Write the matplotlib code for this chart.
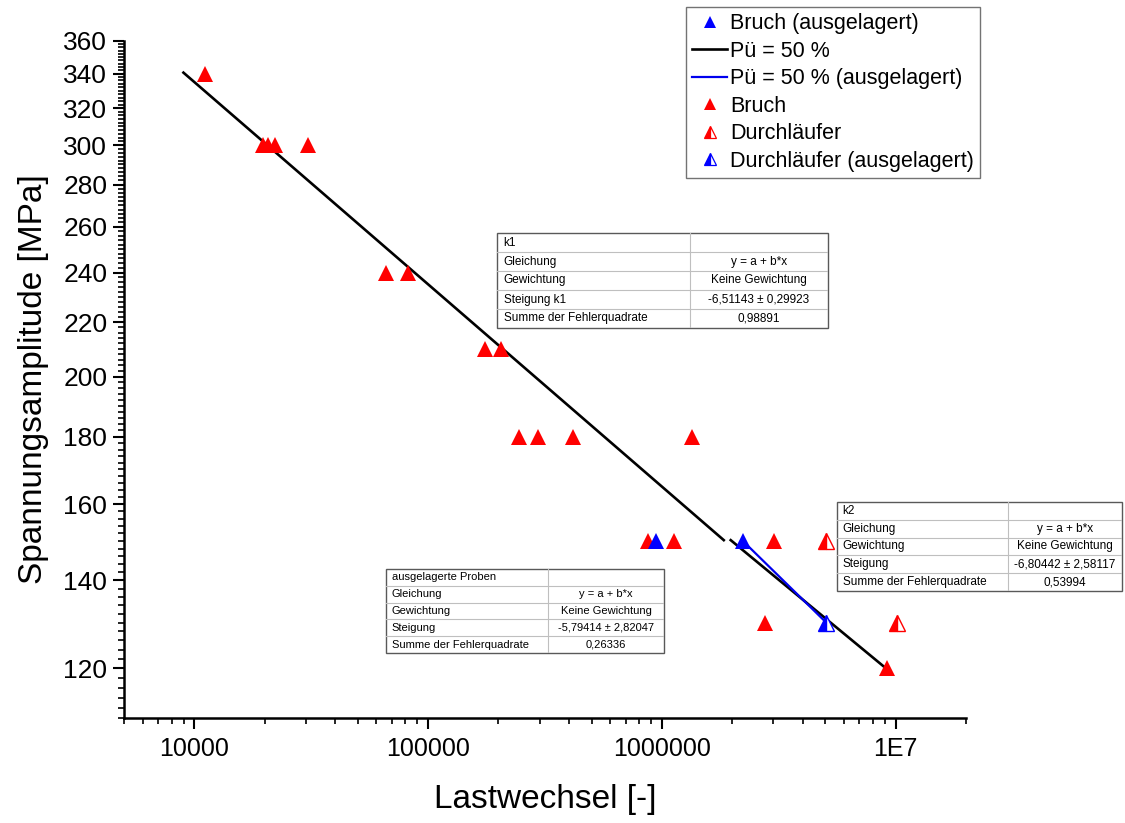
import numpy as np
import matplotlib
matplotlib.use("Agg")
import matplotlib.pyplot as plt
from matplotlib.lines import Line2D
from matplotlib.ticker import FixedLocator, NullFormatter, FuncFormatter

plt.rcParams["font.family"] = ["Liberation Sans", "DejaVu Sans"]

# data (cycles N, stress amplitude S in MPa)
bruch_N = [11100, 19600, 20700, 22100, 30700, 66200, 82200, 175000, 204000,
           244000, 295000, 417000, 1350000, 871000, 1125000, 3030000,
           2770000, 9180000]
bruch_S = [340, 300, 300, 300, 300, 240, 240, 210, 210,
           180, 180, 180, 180, 150, 150, 150, 130, 120]

bruch_aus_N = [948000, 2220000]
bruch_aus_S = [150, 150]

durch_N = [5050000, 10100000]
durch_S = [150, 130]

durch_aus_N = [5050000]
durch_aus_S = [130]

# fitted lines (end points)
k1_N = [8980, 1840000]
k1_S = [340.6, 150.2]
k2_N = [1970000, 9040000]
k2_S = [150.2, 120.1]
aus_line_N = [2220000, 5050000]
aus_line_S = [150, 130]

y_major = [120, 140, 160, 180, 200, 220, 240, 260, 280, 300, 320, 340, 360]
x_major = [1e4, 1e5, 1e6, 1e7]
x_labels = ["10000", "100000", "1000000", "1E7"]

table_k1 = [("k1", ""),
            ("Gleichung", "y = a + b*x"),
            ("Gewichtung", "Keine Gewichtung"),
            ("Steigung k1", "-6,51143 \u00b1 0,29923"),
            ("Summe der Fehlerquadrate", "0,98891")]
table_k2 = [("k2", ""),
            ("Gleichung", "y = a + b*x"),
            ("Gewichtung", "Keine Gewichtung"),
            ("Steigung", "-6,80442 \u00b1 2,58117"),
            ("Summe der Fehlerquadrate", "0,53994")]
table_aus = [("ausgelagerte Proben", ""),
             ("Gleichung", "y = a + b*x"),
             ("Gewichtung", "Keine Gewichtung"),
             ("Steigung", "-5,79414 \u00b1 2,82047"),
             ("Summe der Fehlerquadrate", "0,26336")]

W, H = 1125, 823
fig = plt.figure(figsize=(W / 100, H / 100), dpi=100)


def px_rect(x0, y0, x1, y1):
    return [x0 / W, 1 - y1 / H, (x1 - x0) / W, (y1 - y0) / H]


ax = fig.add_axes(px_rect(124, 41, 966, 718))
ax.set_xscale("log")
ax.set_yscale("log")
ax.set_xlim(5000, 2e7)
ax.set_ylim(110, 360)

ms = 11
ax.plot(k1_N, k1_S, color="black", lw=1.9, zorder=2)
ax.plot(k2_N, k2_S, color="black", lw=1.9, zorder=2)
ax.plot(aus_line_N, aus_line_S, color="#0000ee", lw=1.6, zorder=3)
ax.plot(bruch_N, bruch_S, ls="none", marker="^", ms=ms, color="#ff0000",
        markeredgewidth=0, zorder=4)
ax.plot(durch_N, durch_S, ls="none", marker="^", ms=ms, fillstyle="left",
        markerfacecolor="#ff0000", markerfacecoloralt="white",
        markeredgecolor="#ff0000", markeredgewidth=1.0, zorder=4)
ax.plot(bruch_aus_N, bruch_aus_S, ls="none", marker="^", ms=ms,
        color="#0000ff", markeredgewidth=0, zorder=5)
ax.plot(durch_aus_N, durch_aus_S, ls="none", marker="^", ms=ms,
        fillstyle="left", markerfacecolor="#0000ff",
        markerfacecoloralt="white", markeredgecolor="#0000ff",
        markeredgewidth=1.0, zorder=5)

for side in ("top", "right"):
    ax.spines[side].set_visible(False)
for side in ("left", "bottom"):
    ax.spines[side].set_linewidth(1.8)

ax.yaxis.set_major_locator(FixedLocator(y_major))
ax.yaxis.set_major_formatter(FuncFormatter(lambda v, p: "%d" % round(v)))
ax.yaxis.set_minor_locator(FixedLocator(np.arange(110, 362, 2)))
ax.yaxis.set_minor_formatter(NullFormatter())
ax.xaxis.set_major_locator(FixedLocator(x_major))
ax.set_xticklabels(x_labels)
ax.tick_params(which="major", direction="out", length=8, width=1.5,
               labelsize=19, pad=4)
ax.tick_params(which="minor", direction="out", length=4, width=1.2)
ax.tick_params(axis="x", which="major", labelsize=18, pad=6)

ax.set_xlabel("Lastwechsel [-]", fontsize=24, labelpad=16)
ax.set_ylabel("Spannungsamplitude [MPa]", fontsize=24, labelpad=10)

# legend
tri_kw = dict(ls="none", marker="^", ms=9, markeredgewidth=0)
half_kw = dict(ls="none", marker="^", ms=9, fillstyle="left",
               markerfacecoloralt="white", markeredgewidth=0.9)
handles = [
    Line2D([], [], color="#0000ff", **tri_kw),
    Line2D([], [], color="black", lw=1.9),
    Line2D([], [], color="#0000ee", lw=1.6),
    Line2D([], [], color="#ff0000", **tri_kw),
    Line2D([], [], markerfacecolor="#ff0000", markeredgecolor="#ff0000",
           **half_kw),
    Line2D([], [], markerfacecolor="#0000ff", markeredgecolor="#0000ff",
           **half_kw),
]
labels = ["Bruch (ausgelagert)", "P\u00fc = 50 %", "P\u00fc = 50 % (ausgelagert)",
          "Bruch", "Durchl\u00e4ufer", "Durchl\u00e4ufer (ausgelagert)"]
leg = fig.legend(handles, labels, loc="upper left",
                 bbox_to_anchor=(686 / W, 1 - 7 / H), fontsize=15.5,
                 frameon=True, fancybox=False, framealpha=1,
                 edgecolor="0.45", handlelength=1.6, handletextpad=0.15,
                 labelspacing=0.3, borderpad=0.3, borderaxespad=0)
leg.get_frame().set_linewidth(1.0)


def draw_table(rect, rows, split, fontsize):
    tax = fig.add_axes(px_rect(*rect))
    tax.set_xlim(0, 1)
    tax.set_ylim(0, 1)
    tax.axis("off")
    tax.add_patch(plt.Rectangle((0, 0), 1, 1, facecolor="white",
                                edgecolor="0.35", lw=1.0,
                                transform=tax.transAxes, clip_on=False))
    n = len(rows)
    for i in range(1, n):
        tax.plot([0, 1], [i / n, i / n], color="0.75", lw=0.8)
    tax.plot([split, split], [0, 1], color="0.75", lw=0.8)
    for i, (left, right) in enumerate(rows):
        yc = 1 - (i + 0.5) / n
        tax.text(0.02, yc, left, fontsize=fontsize, va="center", ha="left")
        tax.text((split + 1) / 2, yc, right, fontsize=fontsize,
                 va="center", ha="center")


draw_table((497, 233, 828, 328), table_k1, 193 / 331, 8.5)
draw_table((837, 502, 1122, 591), table_k2, 171 / 285, 8.5)
draw_table((386, 569, 664, 653), table_aus, 162 / 278, 8)

fig.savefig("out.png", dpi=100)
